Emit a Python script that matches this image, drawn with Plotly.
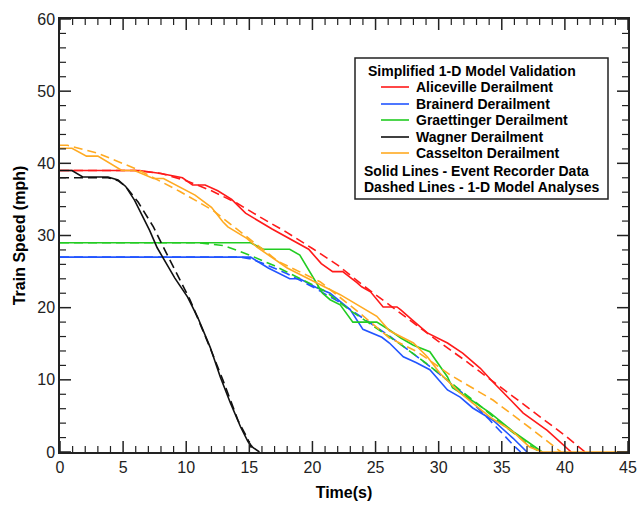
import plotly.graph_objects as go

# ---- Event recorder data (solid) and 1-D model analyses (dashed) ----
# Aliceville
ali_t = [0, 6.3, 8.0, 9.7, 10.5, 11.5, 12.5, 13.6, 14.7, 16.8, 19.7, 20.7, 21.6, 22.4,
         23.5, 23.9, 24.6, 25.6, 26.7, 27.0, 27.9, 29.1, 30.7, 31.9, 33.3, 34.3, 35.7,
         36.7, 38.6, 39.6, 40.5]
ali_v = [39, 39, 38.6, 38, 37, 37, 36.2, 35, 33.1, 30.9, 28.1, 26.1, 25, 25,
         23.5, 22.9, 22.2, 20.1, 20.1, 19.7, 18.3, 16.5, 15.1, 13.7, 11.6, 9.7, 7.2,
         5.4, 3.0, 1.4, 0]
ali_model_t = [0, 6, 8, 10, 12, 14, 16, 18, 20, 22, 24, 26, 28, 30, 32, 34, 36, 38, 40, 41.6]
ali_model_v = [39, 39, 38.6, 37.6, 36.2, 34.5, 32.4, 30.4, 28.2, 25.9, 23.1, 20.5, 17.8,
               15.3, 12.8, 10.2, 7.6, 5.0, 2.3, 0]

# Brainerd
bra_t = [0, 15.1, 16.5, 18.2, 19.0, 20.3, 21.4, 23.0, 24.0, 25.5, 26.1, 27.2, 28.2,
         29.3, 30.7, 31.7, 32.7, 34.3, 35.9, 37.0]
bra_v = [27, 27, 25.5, 24, 24, 22.8, 22, 19.7, 17, 15.9, 15.1, 13.2, 12.4,
         11.4, 8.6, 7.6, 6.1, 4.4, 1.9, 0]
bra_model_t = [0, 14.3, 15, 16, 18, 20, 22, 24, 26, 28, 30, 32, 34, 36, 36.5]
bra_model_v = [27, 27, 26.8, 26.2, 24.7, 22.9, 20.9, 18.6, 16.2, 13.6, 10.9, 8.0, 4.5, 0.8, 0]

# Graettinger
gra_t = [0, 15.1, 16.1, 18.2, 19.0, 20.8, 21.4, 22.2, 23.2, 25.1, 26.1, 27.0, 28.0,
         29.3, 30.7, 31.1, 32.0, 34.1, 36.0, 38.2]
gra_v = [29, 29, 28.1, 28.1, 27.3, 22, 21.1, 20.4, 18, 18, 16.9, 15.8, 14.8,
         13.9, 10.4, 8.9, 7.9, 5.4, 2.7, 0]
gra_model_t = [0, 11, 13, 15, 17, 19, 21, 23, 25, 27, 29, 31, 33, 35, 37, 38]
gra_model_v = [29, 29, 28.6, 27.3, 25.8, 24.1, 22.3, 19.6, 17.2, 14.9, 12.3, 9.6, 6.8, 3.9, 1.2, 0]

# Wagner
wag_t = [0, 0.95, 1.8, 3.8, 4.6, 5.2, 5.9, 6.6, 7.1, 7.7, 8.1, 9.1, 10.1, 10.9, 11.9,
         12.7, 13.5, 14.3, 14.9, 15.3, 15.8]
wag_v = [39, 39, 38.1, 38.1, 37.7, 36.8, 34.9, 32.5, 30.7, 28.3, 27.1, 24.1, 21.5, 18.7,
         14.5, 10.4, 6.8, 3.5, 1.4, 0.6, 0]
wag_model_t = [0, 1.7, 3.8, 4.6, 5.2, 6.2, 7.4, 8.3, 9.3, 10.3, 11.9, 12.9, 14.1, 14.9, 15.3]
wag_model_v = [38, 38, 38, 37.6, 36.8, 34.6, 31.2, 28.0, 24.5, 21.1, 14.4, 10, 4.4, 1.7, 0]

# Casselton
cas_t = [0, 0.95, 2.1, 3.0, 4.9, 5.9, 7.4, 8.2, 10.7, 12.0, 12.9, 13.3, 14.8, 15.6, 18.0,
         22.2, 25.1, 26.1, 28.0, 29.1, 30.1, 31.7, 34.1, 35.9, 37.2, 38.2, 45]
cas_v = [42.1, 42.1, 41, 41, 39, 39, 37.9, 37.9, 35.6, 33.9, 31.9, 31.2, 29.6, 28.4, 25.5,
         21.8, 18.8, 16.8, 15.1, 13.2, 10.9, 8.2, 4.8, 2.8, 0.7, 0, 0]
cas_model_t = [0, 0.6, 3, 6.2, 9.5, 12.1, 14.3, 17.3, 20.6, 23.5, 26.1, 28.3, 30.9, 34.3, 37.5, 39.7]
cas_model_v = [42.5, 42.5, 41.4, 39.1, 36.1, 33.5, 30.5, 26.4, 23.6, 19.6, 15.8, 13.9, 10.7,
               7.2, 3.0, 0]

series = [
    ("Aliceville Derailment", "#ff1a1a", ali_t, ali_v, ali_model_t, ali_model_v),
    ("Brainerd Derailment", "#2255ff", bra_t, bra_v, bra_model_t, bra_model_v),
    ("Graettinger Derailment", "#22cc22", gra_t, gra_v, gra_model_t, gra_model_v),
    ("Wagner Derailment", "#111111", wag_t, wag_v, wag_model_t, wag_model_v),
    ("Casselton Derailment", "#ffaa22", cas_t, cas_v, cas_model_t, cas_model_v),
]

FONT = "Arial, 'Liberation Sans', sans-serif"
LEG_SIZE = 14
AXIS_COLOR = "#222222"

X_RANGE, X_MAJOR, X_MINOR = (0, 45), 5, 1
Y_RANGE, Y_MAJOR, Y_MINOR = (0, 60), 10, 2

fig = go.Figure()
for name, color, t, v, mt, mv in series:
    fig.add_trace(go.Scatter(x=mt, y=mv, mode="lines", name=name + " (model)",
                             line=dict(color=color, width=1.6, dash="9px,5px"),
                             showlegend=False))
    fig.add_trace(go.Scatter(x=t, y=v, mode="lines", name=name,
                             line=dict(color=color, width=1.6), showlegend=False))

# ---- plot-area geometry (pixels) ----
W, H = 640, 508
ML, MR, MT, MB = 60, 12, 19, 56
PW, PH = W - ML - MR, H - MT - MB


def px(x):
    return (x - ML) / PW


def py(y):
    return (H - MB - y) / PH


# inward tick marks on all four sides of the frame
MAJOR_LEN, MINOR_LEN = 11, 6
for xv in range(X_RANGE[0], X_RANGE[1] + 1, X_MINOR):
    major = xv % X_MAJOR == 0
    ln = (MAJOR_LEN if major else MINOR_LEN) / PH
    wd = 1.5 if major else 1.2
    for y0, y1 in [(0, ln), (1, 1 - ln)]:
        fig.add_shape(type="line", xref="x", yref="paper", x0=xv, x1=xv, y0=y0, y1=y1,
                      line=dict(color=AXIS_COLOR, width=wd), layer="above")
for yv in range(Y_RANGE[0], Y_RANGE[1] + 1, Y_MINOR):
    major = yv % Y_MAJOR == 0
    ln = (MAJOR_LEN if major else MINOR_LEN) / PW
    wd = 1.5 if major else 1.2
    for x0, x1 in [(0, ln), (1, 1 - ln)]:
        fig.add_shape(type="line", xref="paper", yref="y", x0=x0, x1=x1, y0=yv, y1=yv,
                      line=dict(color=AXIS_COLOR, width=wd), layer="above")

# legend frame
fig.add_shape(type="rect", xref="paper", yref="paper",
              x0=px(355), x1=px(608), y0=py(199), y1=py(58),
              line=dict(color=AXIS_COLOR, width=1.5), fillcolor="white", layer="above")

fig.add_annotation(xref="paper", yref="paper", x=px(366), y=py(71),
                   text="<b>Simplified 1-D Model Validation</b>", showarrow=False,
                   xanchor="left", yanchor="middle",
                   font=dict(size=LEG_SIZE, color="black", family=FONT))

row_y = [87, 104, 120, 137, 153]
for (name, color, *_), ry in zip(series, row_y):
    fig.add_shape(type="line", xref="paper", yref="paper",
                  x0=px(381), x1=px(409), y0=py(ry), y1=py(ry),
                  line=dict(color=color, width=1.6), layer="above")
    fig.add_annotation(xref="paper", yref="paper", x=px(414), y=py(ry),
                       text="<b>%s</b>" % name, showarrow=False,
                       xanchor="left", yanchor="middle",
                       font=dict(size=LEG_SIZE, color="black", family=FONT))

for txt, ry in [("Solid Lines - Event Recorder Data", 171),
                ("Dashed Lines - 1-D Model Analyses", 187)]:
    fig.add_annotation(xref="paper", yref="paper", x=px(362), y=py(ry),
                       text="<b>%s</b>" % txt, showarrow=False,
                       xanchor="left", yanchor="middle",
                       font=dict(size=LEG_SIZE, color="black", family=FONT))

xaxis = dict(
    range=list(X_RANGE), tickmode="linear", tick0=0, dtick=X_MAJOR,
    showgrid=False, zeroline=False, showline=True, linecolor=AXIS_COLOR, linewidth=1.5,
    mirror=True, ticks="", tickfont=dict(size=16, color=AXIS_COLOR, family=FONT),
    layer="below traces",
    title=dict(text="<b>Time(s)</b>", font=dict(size=16, color="black", family=FONT), standoff=12),
)
yaxis = dict(
    range=list(Y_RANGE), tickmode="linear", tick0=0, dtick=Y_MAJOR,
    showgrid=False, zeroline=False, showline=True, linecolor=AXIS_COLOR, linewidth=1.5,
    mirror=True, ticks="", tickfont=dict(size=16, color=AXIS_COLOR, family=FONT),
    layer="below traces",
    title=dict(text="<b>Train Speed (mph)</b>", font=dict(size=16, color="black", family=FONT),
               standoff=8),
)

fig.update_layout(
    template="none",
    width=W, height=H,
    margin=dict(l=ML, r=MR, t=MT, b=MB, autoexpand=False),
    plot_bgcolor="white", paper_bgcolor="white",
    showlegend=False,
    font=dict(family=FONT),
    xaxis=xaxis, yaxis=yaxis,
)

fig.write_html("out.html")
